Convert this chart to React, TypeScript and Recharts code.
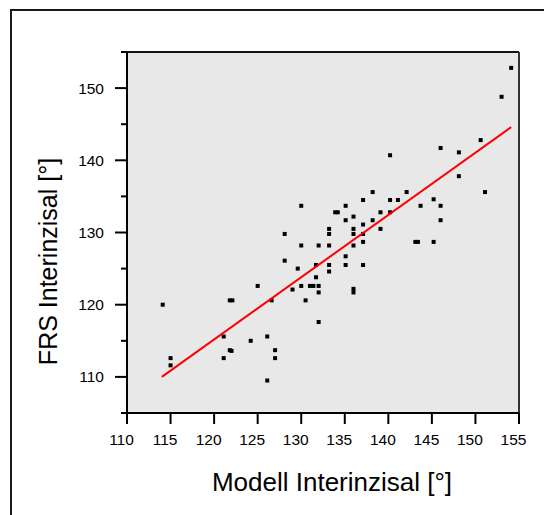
import React from 'react';
import { ScatterChart, Scatter, XAxis, YAxis, CartesianGrid, ReferenceLine } from 'recharts';

const modellValues = [
  114.1, 115.0, 115.0, 121.1, 121.1, 121.8, 122.1, 121.8, 122.0, 124.2,
  125.0, 126.1, 126.1, 126.6, 127.0, 127.0, 128.1, 128.1, 129.0, 129.6,
  130.0, 130.0, 130.0, 130.5, 131.0, 131.4, 131.7, 131.7, 132.0, 132.0,
  132.0, 132.0, 133.2, 133.2, 133.2, 133.2, 133.2, 133.9, 134.2, 135.1,
  135.1, 135.1, 135.1, 136.0, 136.0, 136.0, 136.0, 136.0, 136.0, 137.1,
  137.1, 137.1, 137.1, 137.1, 138.2, 138.2, 139.1, 139.1, 140.2, 140.2,
  140.2, 141.1, 142.1, 143.1, 143.4, 143.7, 145.2, 145.2, 146.0, 146.0,
  146.0, 148.1, 148.1, 150.6, 151.1, 153.0, 154.1,
];
const frsValues = [
  120.0, 112.6, 111.6, 115.6, 112.6, 120.6, 120.6, 113.7, 113.6, 115.0,
  122.6, 115.6, 109.5, 120.6, 113.7, 112.6, 129.8, 126.1, 122.1, 125.0,
  133.7, 128.2, 122.6, 120.6, 122.6, 122.6, 125.5, 123.8, 128.2, 122.6,
  121.7, 117.6, 130.5, 129.8, 128.2, 125.5, 124.6, 132.8, 132.8, 133.7,
  131.7, 126.7, 125.5, 132.2, 130.5, 129.8, 128.2, 122.2, 121.7, 134.5,
  131.1, 129.8, 128.7, 125.5, 135.6, 131.7, 132.8, 130.5, 140.7, 134.5,
  132.8, 134.5, 135.6, 128.7, 128.7, 133.7, 134.6, 128.7, 141.7, 133.7,
  131.7, 141.1, 137.8, 142.8, 135.6, 148.8, 152.8,
];
const fitLineModell = [114.0, 154.1];
const fitLineFrs = [110.0, 144.6];

const xTicks = [110, 115, 120, 125, 130, 135, 140, 145, 150, 155];
const yTicks = [105, 110, 115, 120, 125, 130, 135, 140, 145, 150, 155];
const yLabeledTicks = [110, 120, 130, 140, 150];

const xTitle = 'Modell Interinzisal [°]';
const yTitle = 'FRS Interinzisal [°]';

const points = modellValues.map((m, i) => ({ x: m, y: frsValues[i] }));
const fitData = fitLineModell.map((m, i) => ({ x: m, y: fitLineFrs[i] }));

const FONT = "'Liberation Sans', Arial, Helvetica, sans-serif";

const SquareDot = (props: any) => {
  const { cx, cy } = props;
  if (cx == null || cy == null) return <g />;
  return <rect x={cx - 2} y={cy - 2} width={4} height={4} fill="#000" />;
};

const NoDot = () => <g />;

const XTick = (props: any) => {
  const { x, y, payload } = props;
  return (
    <g>
      <line x1={x} x2={x} y1={y} y2={y + 11} stroke="#000" strokeWidth={2} />
      <text x={x - 5.5} y={y + 32} textAnchor="middle" fontSize={15.5} fontFamily={FONT} fill="#000">
        {payload.value}
      </text>
    </g>
  );
};

const YTick = (props: any) => {
  const { x, y, payload } = props;
  const major = yLabeledTicks.includes(payload.value);
  return (
    <g>
      <line x1={x - (major ? 12 : 6)} x2={x} y1={y} y2={y} stroke="#000" strokeWidth={2} />
      {major && (
        <text x={x - 23} y={y + 5.5} textAnchor="end" fontSize={15.5} fontFamily={FONT} fill="#000">
          {payload.value}
        </text>
      )}
    </g>
  );
};

const XTitle = (props: any) => {
  const vb = props.viewBox || {};
  return (
    <text
      x={vb.x + vb.width / 2 + 9}
      y={vb.y + 78}
      textAnchor="middle"
      fontSize={26}
      fontFamily={FONT}
      fill="#000"
    >
      {xTitle}
    </text>
  );
};

const YTitle = (props: any) => {
  const vb = props.viewBox || {};
  const cx = 40;
  const cy = vb.y + vb.height / 2 + 29;
  return (
    <text
      x={cx}
      y={cy}
      transform={`rotate(-90 ${cx} ${cy})`}
      textAnchor="middle"
      dominantBaseline="central"
      fontSize={25}
      fontFamily={FONT}
      fill="#000"
    >
      {yTitle}
    </text>
  );
};

export default function App() {
  return (
    <div style={{ position: 'relative', width: 544, height: 507, overflow: 'hidden', background: '#fff' }}>
      <div
        style={{
          position: 'absolute',
          left: 2,
          top: 1,
          width: 700,
          height: 700,
          borderLeft: '2px solid #1a1a1a',
          borderTop: '2px solid #1a1a1a',
        }}
      />
      <div style={{ position: 'absolute', left: 0, top: 0 }}>
        <ScatterChart width={544} height={507} margin={{ top: 44, right: 33, bottom: 42, left: 0 }}>
          <CartesianGrid fill="#e8e8e8" horizontal={false} vertical={false} />
          <XAxis
            type="number"
            dataKey="x"
            domain={[110, 155]}
            ticks={xTicks}
            allowDataOverflow
            interval={0}
            height={60}
            tickSize={0}
            tickMargin={0}
            tickLine={false}
            tick={<XTick />}
            axisLine={{ stroke: '#000', strokeWidth: 2 }}
            label={<XTitle />}
          />
          <YAxis
            type="number"
            dataKey="y"
            domain={[105, 155]}
            ticks={yTicks}
            allowDataOverflow
            interval={0}
            width={119}
            tickSize={0}
            tickMargin={0}
            tickLine={false}
            tick={<YTick />}
            axisLine={{ stroke: '#000', strokeWidth: 2 }}
            label={<YTitle />}
          />
          <ReferenceLine y={155} stroke="#111" strokeWidth={2} />
          <ReferenceLine x={155} stroke="#333" strokeWidth={2} />
          <Scatter data={points} shape={<SquareDot />} isAnimationActive={false} />
          <Scatter
            data={fitData}
            line={{ stroke: '#ff0000', strokeWidth: 2 }}
            shape={<NoDot />}
            isAnimationActive={false}
          />
        </ScatterChart>
      </div>
    </div>
  );
}
